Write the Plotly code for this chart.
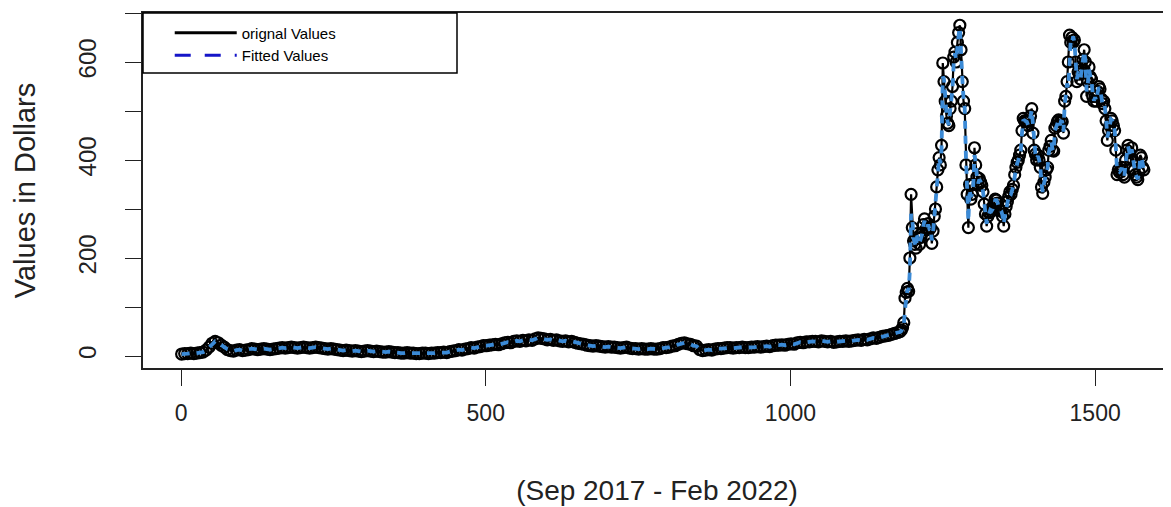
import plotly.graph_objects as go

# Early period: sampled every 5 days (day index 1..1176)
early_orig = [
    4,5,5,6,5,6,7,8,12,18,26,30,27,22,18,13,11,10,12,13,
    11,12,13,15,14,13,14,15,14,13,14,15,16,17,16,17,18,17,16,17,
    18,17,16,17,18,17,16,15,14,15,14,13,12,11,12,11,10,11,10,9,
    10,11,10,9,10,9,8,8,9,8,7,7,6,6,7,6,6,5,5,6,
    6,5,6,6,7,7,8,7,9,10,11,13,12,14,15,17,16,18,19,21,
    21,22,23,24,23,25,27,28,27,30,31,30,32,31,33,32,35,37,36,35,
    33,34,32,33,31,30,31,29,30,28,26,25,24,22,21,20,21,20,19,18,
    19,18,18,17,16,17,18,16,15,15,14,15,14,14,15,14,14,15,17,17,
    18,20,21,24,26,27,25,24,21,20,13,11,12,13,12,14,15,15,16,17,
    17,16,17,17,18,17,17,18,18,19,18,19,20,19,21,22,22,23,22,24,
    25,24,27,28,27,29,29,30,30,29,31,30,29,30,28,29,30,30,31,30,
    31,32,33,32,34,33,35,37,36,38,40,41,42,44,46,48,
]
early_fitted = [
    4,4,5,6,5,6,7,8,11,17,25,30,28,22,18,14,11,10,12,13,
    11,12,13,15,14,13,14,15,14,13,14,15,16,17,16,17,18,17,16,17,
    18,17,16,17,18,17,16,15,14,15,14,13,12,11,12,11,10,11,10,9,
    10,11,10,9,10,9,8,8,9,8,7,7,6,6,7,6,6,5,5,6,
    6,5,6,6,7,7,8,7,9,10,11,13,12,14,15,17,16,18,19,21,
    21,22,23,24,23,25,27,28,27,30,31,30,32,31,33,32,35,37,36,35,
    33,34,32,33,31,30,31,29,30,28,26,25,24,22,21,20,21,20,19,18,
    19,18,18,17,16,17,18,16,15,15,14,15,14,14,15,14,14,15,17,17,
    18,20,21,24,26,27,25,24,21,20,14,11,12,13,12,14,15,15,16,17,
    17,16,17,17,18,17,17,18,18,19,18,19,20,19,21,22,22,23,22,24,
    25,24,27,28,27,29,29,30,30,29,31,30,29,30,28,29,30,30,31,30,
    31,32,33,32,34,33,35,37,36,38,40,41,42,44,46,48,
]

# Late period: sampled every 2 days (day index 1180..1580)
late_orig = [
    50,53,58,68,118,130,138,132,200,330,262,235,228,220,
    250,240,228,242,250,268,280,258,262,270,258,262,230,255,285,300,
    345,380,405,390,430,598,560,520,490,475,470,505,520,550,610,
    620,600,640,660,675,625,560,520,505,390,330,262,350,320,330,
    350,425,390,365,350,362,355,348,335,310,290,265,285,292,300,
    295,300,310,320,318,312,300,298,296,285,265,290,305,315,325,335,
    330,340,348,370,385,395,400,410,420,460,485,480,480,478,470,
    480,490,505,455,420,412,400,410,400,385,345,332,355,365,380,
    385,420,428,440,420,418,465,470,478,482,470,480,478,455,520,530,
    560,600,655,640,650,640,645,600,560,580,575,565,590,605,625,
    600,530,560,590,570,565,530,520,530,520,540,550,545,525,515,
    520,505,480,440,460,470,485,480,470,460,420,370,380,375,380,385,
    370,365,400,420,430,415,405,425,400,380,370,365,360,375,
    410,405,385,380,
]
late_fitted = [
    49,51,56,62,95,128,136,134,175,290,280,240,230,222,
    245,243,232,240,248,265,276,262,261,268,260,261,236,252,280,296,
    335,372,405,393,422,570,565,525,495,478,471,500,517,545,600,
    618,605,635,655,670,632,568,526,506,405,338,275,340,325,330,
    348,410,395,368,352,360,356,348,336,314,292,270,282,290,298,
    296,300,308,318,318,313,302,298,296,287,270,287,303,314,324,333,
    331,339,347,366,382,393,399,408,418,455,480,481,480,478,471,
    478,489,502,462,425,413,402,408,401,387,352,335,352,363,378,
    384,415,426,438,423,418,460,469,477,481,471,479,478,458,512,528,
    556,548,594,645,641,652,641,605,565,577,575,566,587,603,622,
    603,540,556,586,572,565,535,521,528,521,537,548,545,528,516,
    519,508,483,446,457,468,483,481,471,461,426,378,378,376,379,384,
    372,366,395,417,428,417,406,422,403,383,372,366,361,373,
    405,405,388,381,
]

early_days = [1 + 5 * i for i in range(len(early_orig))]
late_days = [1180 + 2 * i for i in range(len(late_orig))]
days = early_days + late_days
orig_values = early_orig + late_orig
fitted_values = early_fitted + late_fitted

x_ticks = [0, 500, 1000, 1500]
y_ticks = [0, 100, 200, 300, 400, 500, 600, 700]
y_tick_text = ["0", "", "200", "", "400", "", "600", ""]

FONT = "Liberation Sans, Arial, sans-serif"
AX = "#222222"

fig = go.Figure()
fig.add_trace(go.Scatter(
    x=days, y=orig_values, mode="lines+markers",
    line=dict(color="black", width=2.2),
    marker=dict(symbol="circle-open", size=11, color="black", line=dict(width=2.2, color="black")),
    showlegend=False, name="orignal Values"))
fig.add_trace(go.Scatter(
    x=days, y=fitted_values, mode="lines",
    line=dict(color="#3b8ad6", width=3.8, dash="8px,7px"),
    showlegend=False, name="Fitted Values"))
# legend entries
fig.add_trace(go.Scatter(x=[None], y=[None], mode="lines",
                         line=dict(color="black", width=3), name="orignal Values"))
fig.add_trace(go.Scatter(x=[None], y=[None], mode="lines",
                         line=dict(color="#1515c8", width=3, dash="16px,14px"), name="Fitted Values"))

# page body has an 8px margin: figure is drawn from (8, 8)
fig.update_layout(
    width=1163, height=499,
    margin=dict(l=135, r=0, t=5, b=139),
    paper_bgcolor="white", plot_bgcolor="white",
    font=dict(family=FONT, color="black", size=23),
    legend=dict(x=0.026, y=0.99, xanchor="left", yanchor="top",
                bgcolor="rgba(0,0,0,0)", borderwidth=0,
                font=dict(size=15, color="black"), itemwidth=62,
                tracegroupgap=0),
    shapes=[dict(type="rect", xref="paper", yref="paper",
                 x0=0, x1=(457 - 143) / 1028, y0=1 - 60 / 355, y1=1,
                 line=dict(color="black", width=1.5), fillcolor="rgba(0,0,0,0)")],
)
fig.update_xaxes(range=[-62.4, 1624.5], showgrid=False, zeroline=False, automargin=False,
                 showline=True, mirror=True, linecolor=AX, linewidth=1.5,
                 ticks="outside", ticklen=16, tickwidth=1.3, tickcolor=AX,
                 tickvals=x_ticks, ticktext=[str(v) for v in x_ticks],
                 tickfont=dict(size=23, color=AX), ticklabelstandoff=8,
                 title=dict(text="(Sep 2017 - Feb 2022)", font=dict(size=28, color=AX), standoff=55))
fig.update_yaxes(range=[-24.5, 700], showgrid=False, zeroline=False, automargin=False,
                 showline=True, linecolor=AX, linewidth=1.5,
                 ticks="outside", ticklen=16, tickwidth=1.3, tickcolor=AX,
                 tickvals=y_ticks, ticktext=y_tick_text, tickangle=-90,
                 tickfont=dict(size=24, color=AX), ticklabelstandoff=20,
                 title=dict(text="Values in Dollars", font=dict(size=29, color=AX), standoff=30))

fig.write_html("out.html")
